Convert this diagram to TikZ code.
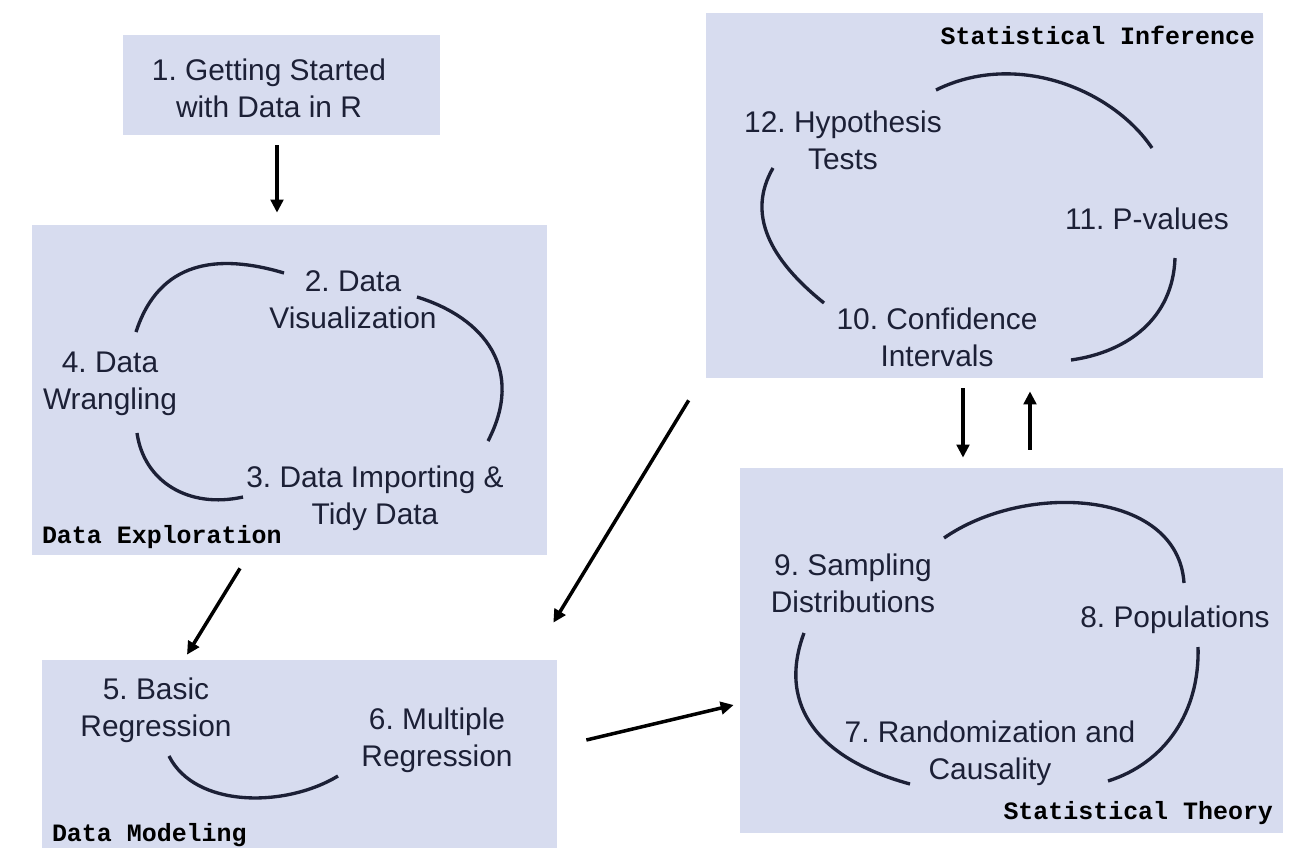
\documentclass[tikz,border=0pt]{standalone}
\usepackage{fontspec}
\setmainfont{Liberation Sans}
\setmonofont{Liberation Mono}
\frenchspacing
\definecolor{PanelFill}{HTML}{D7DCEF}
\definecolor{InkNavy}{HTML}{1C2036}
\usetikzlibrary{arrows.meta,fit,calc}
\tikzset{
  panel/.style={fill=PanelFill, draw=none, inner sep=0pt},
  chapter/.style={align=center, text=InkNavy, inner sep=0pt, font=\fontsize{17}{21}\selectfont},
  part/.style={inner sep=0pt, font=\fontsize{14.2}{16}\selectfont\ttfamily\bfseries},
  loopline/.style={InkNavy, line width=1.9pt},
  arrow/.style={-{Triangle[length=2.6mm,width=2.5mm]}, line width=2pt, black}
}
\begin{document}
\begin{tikzpicture}[x=0.02cm, y=-0.02cm]
    \useasboundingbox (0,0) rectangle (1315,862);

    \node[panel, fit={(123,35) (440,135)}] (start) {};
    \node[panel, fit={(32,225) (547,555)}] (explore) {};
    \node[panel, fit={(42,660) (557,848)}] (model) {};
    \node[panel, fit={(706,13) (1263,378)}] (infer) {};
    \node[panel, fit={(740,468) (1283,833)}] (theory) {};

    \node[part, anchor=base west] (lexplore) at ($(explore.south west)+(10,-12)$) {Data Exploration};
    \node[part, anchor=base west] (lmodel) at ($(model.south west)+(10,-7)$) {Data Modeling};
    \node[part, anchor=base east] (linfer) at ($(infer.north east)+(-8,32)$) {Statistical Inference};
    \node[part, anchor=base east] (ltheory) at ($(theory.south east)+(-10,-14)$) {Statistical Theory};

    \node[chapter] (ch1) at (269,88) {1. Getting Started\\with Data in R};
    \node[chapter] (ch2) at (353,299.5) {2. Data\\Visualization};
    \node[chapter] (ch3) at (375,498) {3. Data Importing \&\\Tidy Data};
    \node[chapter] (ch4) at (110,384) {4. Data\\Wrangling};
    \node[chapter] (ch5) at (156,710) {5. Basic\\Regression};
    \node[chapter] (ch6) at (437,740) {6. Multiple\\Regression};
    \node[chapter] (ch7) at (990,753) {7. Randomization and\\Causality};
    \node[chapter] (ch8) at (1175,620) {8. Populations};
    \node[chapter] (ch9) at (853,583.5) {9. Sampling\\Distributions};
    \node[chapter] (ch10) at (937,337.5) {10. Confidence\\Intervals};
    \node[chapter] (ch11) at (1147,219) {11. P-values};
    \node[chapter] (ch12) at (843,140.5) {12. Hypothesis\\Tests};

    \path (136,332) coordinate (w4) (284,273) coordinate (v2)
          (417,297) coordinate (v2b) (488,441) coordinate (i3)
          (243,497) coordinate (i3b) (137,433) coordinate (w4b)
          (169,756) coordinate (r5) (338,776) coordinate (r6)
          (936,90) coordinate (h12) (1152,148) coordinate (p11)
          (1175,258) coordinate (p11b) (1071,360) coordinate (c10)
          (824,303) coordinate (c10b) (773,168) coordinate (h12b)
          (944,538) coordinate (s9) (1184,583) coordinate (p8)
          (1198,647) coordinate (p8b) (1108,781) coordinate (r7)
          (910,784) coordinate (r7b) (804,633) coordinate (s9b);

    \draw[loopline] (w4) .. controls (159,261) and (217,253) .. (v2);
    \draw[loopline] (v2b) .. controls (485,318) and (525,370) .. (i3);
    \draw[loopline] (i3b) .. controls (189,509) and (144,482) .. (w4b);
    \draw[loopline] (r5) .. controls (195,808) and (285,808) .. (r6);
    \draw[loopline] (h12) .. controls (1017,50) and (1113,90) .. (p11);
    \draw[loopline] (p11b) .. controls (1173,318) and (1128,352) .. (c10);
    \draw[loopline] (c10b) .. controls (768,258) and (747,213) .. (h12b);
    \draw[loopline] (s9) .. controls (1026,481) and (1178,490) .. (p8);
    \draw[loopline] (p8b) .. controls (1200,712) and (1165,763) .. (r7);
    \draw[loopline] (r7b) .. controls (822,760) and (776,708) .. (s9b);

    \draw[arrow] ($(start.south)+(-4.5,10)$) -- ($(explore.north)+(-12.5,-12)$);
    \draw[arrow] ($(explore.south)+(-49.5,13)$) -- ($(model.north)+(-112.5,-5)$);
    \draw[arrow] ($(infer.south west)+(-17,22)$) -- ($(model.north east)+(-4,-37)$);
    \draw[arrow] ($(model.east)+(29,-14)$) -- ($(theory.west)+(-6,54.5)$);
    \draw[arrow] ($(infer.south)+(-21.5,10)$) -- ($(theory.north)+(-48.5,-10)$);
    \draw[arrow] ($(theory.north)+(18.5,-18)$) -- ($(infer.south)+(45.5,13)$);
  \end{tikzpicture}
\end{document}
